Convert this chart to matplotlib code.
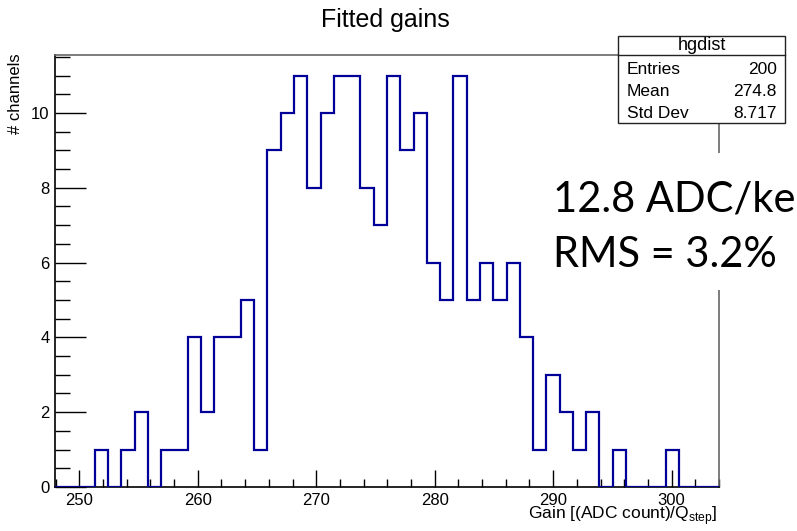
import numpy as np
import matplotlib
matplotlib.use("Agg")
import matplotlib.pyplot as plt
from matplotlib.patches import Rectangle
from matplotlib.lines import Line2D
from matplotlib.ticker import MultipleLocator

# Histogram contents: 50 equal bins over the gain range
counts = [0, 0, 0, 1, 0, 1, 2, 0, 1, 1,
          4, 2, 4, 4, 5, 1, 9, 10, 11, 8,
          10, 11, 11, 8, 7, 11, 9, 10, 6, 5,
          11, 5, 6, 5, 6, 4, 1, 3, 2, 1,
          2, 0, 1, 0, 0, 0, 1, 0, 0, 0]
x_range = (247.95, 304.0)
stats_labels = ["Entries", "Mean", "Std Dev"]
stats_values = ["200", "274.8", "8.717"]
hist_name = "hgdist"
title = "Fitted gains"
note_lines = ["12.8 ADC/ke", "RMS = 3.2%"]

W, H = 797, 531
fig = plt.figure(figsize=(W / 100, H / 100), dpi=100)
plt.rcParams['font.family'] = ['Liberation Sans', 'DejaVu Sans']

def fx(px):
    return px / W

def fy(py):
    return 1 - py / H

ax = fig.add_axes([fx(55), fy(487), fx(719) - fx(55), fy(55) - fy(487)])

edges = np.linspace(x_range[0], x_range[1], len(counts) + 1)
ax.stairs(counts, edges, baseline=0, fill=False, color='#000099', lw=1.6, zorder=3)

ax.set_xlim(*x_range)
ax.set_ylim(0, max(counts) * 1.05)

ax.xaxis.set_major_locator(MultipleLocator(10))
ax.xaxis.set_minor_locator(MultipleLocator(2))
ax.yaxis.set_major_locator(MultipleLocator(2))
ax.yaxis.set_minor_locator(MultipleLocator(0.5))
ax.tick_params(axis='x', which='major', direction='in', length=12, width=1, labelsize=12, pad=4)
ax.tick_params(axis='x', which='minor', direction='in', length=6, width=1)
ax.tick_params(axis='y', which='major', direction='in', length=22, width=1, labelsize=12, pad=4)
ax.tick_params(axis='y', which='minor', direction='in', length=11, width=1)

for side in ['left', 'bottom']:
    ax.spines[side].set_color('black')
    ax.spines[side].set_linewidth(1.2)
for side in ['top', 'right']:
    ax.spines[side].set_color('#666666')
    ax.spines[side].set_linewidth(1.2)

fig.text(fx(385), fy(27), title, ha='center', va='baseline', fontsize=18)

fig.text(fx(16), fy(53), "# channels", rotation=90, ha='center', va='top', fontsize=12)
fig.text(fx(718), fy(519), r"Gain [(ADC count)/Q$_{\mathregular{step}}$]",
         ha='right', va='baseline', fontsize=12.5)

# white panel behind the note text
fig.patches.append(Rectangle((fx(545), fy(290)), fx(W) - fx(545), fy(153) - fy(290),
                             transform=fig.transFigure, facecolor='white',
                             edgecolor='none', zorder=1))
fig.text(fx(553), fy(212), note_lines[0], ha='left', va='baseline',
         fontsize=30, family=['Lato', 'DejaVu Sans'], zorder=2)
fig.text(fx(553), fy(267), note_lines[1], ha='left', va='baseline',
         fontsize=30, family=['Lato', 'DejaVu Sans'], zorder=2)

# statistics box
bx0, bx1, by0, by1, byh = 618, 785, 36, 123, 55
fig.patches.append(Rectangle((fx(bx0), fy(by1)), fx(bx1) - fx(bx0), fy(by0) - fy(by1),
                             transform=fig.transFigure, facecolor='white',
                             edgecolor='#222222', lw=1.0, zorder=1))
fig.lines.append(Line2D([fx(bx0), fx(bx1)], [fy(byh), fy(byh)],
                        transform=fig.transFigure, color='#222222', lw=1.0, zorder=2))
fig.text(fx((bx0 + bx1) / 2), fy(46), hist_name, ha='center', va='center', fontsize=13, zorder=3)
for i, (lab, val) in enumerate(zip(stats_labels, stats_values)):
    yy = fy(70 + i * 21.5)
    fig.text(fx(627), yy, lab, ha='left', va='center', fontsize=12.5, zorder=3)
    fig.text(fx(777), yy, val, ha='right', va='center', fontsize=12.5, zorder=3)

fig.savefig("out.png", dpi=100)
